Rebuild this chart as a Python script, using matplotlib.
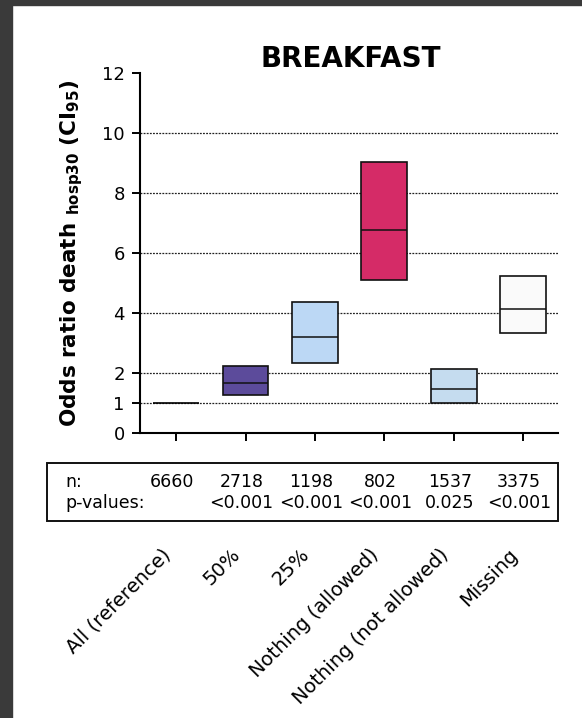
import numpy as np
import matplotlib
matplotlib.use('Agg')
import matplotlib.pyplot as plt
from matplotlib.patches import Rectangle
from matplotlib.transforms import blended_transform_factory

# data
categories = ['All (reference)', '50%', '25%', 'Nothing (allowed)',
              'Nothing (not allowed)', 'Missing']
odds_ratio = [1.0, 1.68, 3.2, 6.77, 1.47, 4.13]
ci_low = [1.0, 1.28, 2.33, 5.1, 1.0, 3.33]
ci_high = [1.0, 2.25, 4.37, 9.03, 2.13, 5.23]
n_values = ['6660', '2718', '1198', '802', '1537', '3375']
p_values = ['', '<0.001', '<0.001', '<0.001', '0.025', '<0.001']
box_colors = [None, '#5c4b9b', '#bcd8f5', '#d52b67', '#c5dcef', '#fafafa']
y_ticks = [0, 1, 2, 4, 6, 8, 10, 12]
grid_levels = [1, 2, 4, 6, 8, 10]

plt.rcParams['font.family'] = ['DejaVu Sans']
plt.rcParams['mathtext.fontset'] = 'dejavusans'

W, H = 582, 718
fig = plt.figure(figsize=(W / 100, H / 100), dpi=100)
fig.patch.set_facecolor('white')

# dark scan border on left and top
fig.patches.append(Rectangle((0, 0), 12 / W, 1, transform=fig.transFigure,
                             color='#3a3a3a', zorder=0))
fig.patches.append(Rectangle((0, 1 - 5 / H), 1, 5 / H, transform=fig.transFigure,
                             color='#3a3a3a', zorder=0))

ax_l, ax_r = 140 / W, 558 / W
ax_t, ax_b = 1 - 73 / H, 1 - 433 / H
ax = fig.add_axes([ax_l, ax_b, ax_r - ax_l, ax_t - ax_b])

x = np.arange(len(categories))

for g in grid_levels:
    ax.axhline(g, color='#222222', lw=0.9, ls=(0, (1.5, 1.0)), zorder=1)

box_w = 0.66
for i in x:
    if i == 0:
        ax.hlines(odds_ratio[i], i - box_w / 2, i + box_w / 2, color='black',
                  lw=1.2, zorder=3)
        continue
    ax.bar(i, ci_high[i] - ci_low[i], bottom=ci_low[i], width=box_w,
           color=box_colors[i], edgecolor='#111111', linewidth=1.2, zorder=2)
    ax.hlines(odds_ratio[i], i - box_w / 2, i + box_w / 2, color='#111111',
              lw=1.1, zorder=3)

ax.set_xlim(-0.52, 5.5)
ax.set_ylim(0, 12)
ax.set_yticks(y_ticks)
ax.set_yticklabels([str(t) for t in y_ticks], fontsize=13)
ax.set_xticks(x)
ax.set_xticklabels([])
ax.tick_params(axis='both', direction='out', length=6, width=1.4, color='black')
ax.tick_params(axis='y', pad=5)
for s in ['top', 'right']:
    ax.spines[s].set_visible(False)
for s in ['left', 'bottom']:
    ax.spines[s].set_linewidth(1.5)
ax.set_facecolor('none')

ax.set_title('BREAKFAST', fontsize=20, fontweight='bold', pad=4, x=0.505)
ax.set_ylabel(r'Odds ratio death $_{\mathbf{hosp30}}$ (CI$_{\mathbf{95}}$)',
              fontsize=15.5, fontweight='bold', labelpad=12)

# table box with n and p-values
fig.patches.append(Rectangle((47 / W, 1 - 521 / H), (558 - 47) / W, (521 - 463) / H,
                             transform=fig.transFigure, fill=False,
                             edgecolor='#111111', linewidth=1.4))
fig.text(65 / W, 1 - 482 / H, 'n:', fontsize=12.5, va='center', ha='left')
fig.text(65 / W, 1 - 503 / H, 'p-values:', fontsize=12.5, va='center', ha='left')
trans = blended_transform_factory(ax.transData, fig.transFigure)
for i in x:
    fig.text(i - 0.06, 1 - 482 / H, n_values[i], fontsize=12.5, va='center',
             ha='center', transform=trans)
    if p_values[i]:
        fig.text(i - 0.06, 1 - 503 / H, p_values[i], fontsize=12.5, va='center',
                 ha='center', transform=trans)

# rotated category labels
for i in x:
    fig.text(i - 0.22, 1 - 545 / H, categories[i], fontsize=14, rotation=45,
             rotation_mode='anchor', ha='right', va='top', transform=trans)

fig.savefig('out.png', dpi=100)
